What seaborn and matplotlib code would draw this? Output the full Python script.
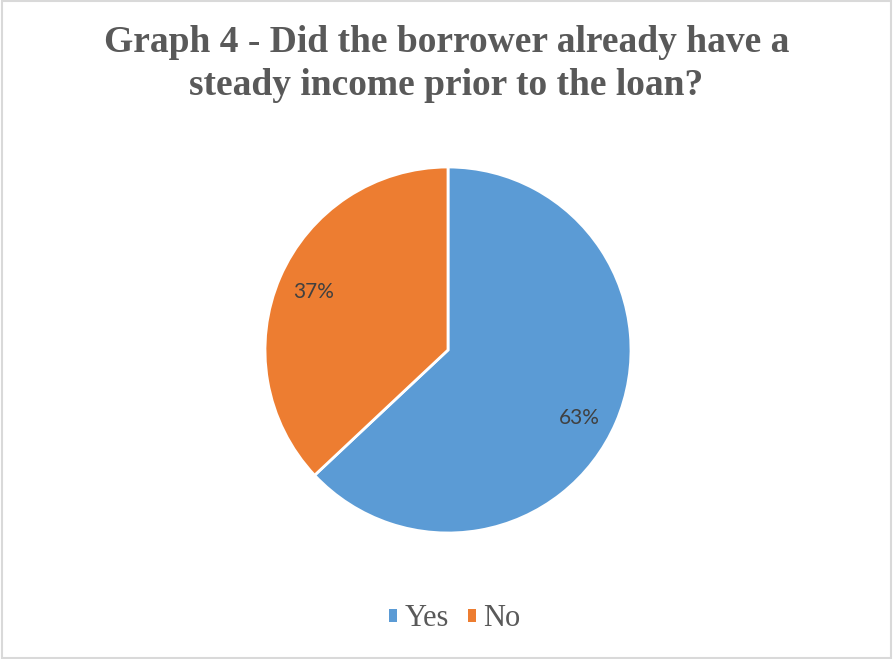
import matplotlib
matplotlib.use("Agg")
import numpy as np
import matplotlib.pyplot as plt
from matplotlib.patches import Patch
import seaborn as sns

categories = ["Yes", "No"]
shares = [63, 37]
colors = ["#5B9BD5", "#ED7D31"]
title = "Graph 4 - Did the borrower already have a\nsteady income prior to the loan?"

sns.set_theme(style="white")
plt.rcParams["font.family"] = ["Liberation Serif", "DejaVu Serif"]

fig = plt.figure(figsize=(8.93, 6.59), dpi=100)
fig.patch.set_facecolor("white")

# light frame around the chart area
frame = plt.Rectangle((0.002, 0.002), 0.996, 0.996, transform=fig.transFigure,
                      fill=False, edgecolor="#D9D9D9", linewidth=1.5)
fig.add_artist(frame)

ax = fig.add_axes([265 / 893, (659 - 533) / 659, 366 / 893, 366 / 659])
wedges, _, autotexts = ax.pie(
    shares,
    colors=colors,
    startangle=90,
    counterclock=False,
    autopct="%1.0f%%",
    pctdistance=0.8,
    radius=1.0,
    wedgeprops=dict(edgecolor="white", linewidth=2),
    textprops=dict(color="#404040", fontsize=15, family=["Lato", "DejaVu Sans"]),
)

# pull the large-slice label a little further round its wedge
w = wedges[0]
ang = np.deg2rad((w.theta1 + w.theta2) / 2 - 4)
autotexts[0].set_position((0.81 * np.cos(ang), 0.81 * np.sin(ang)))

ax.set_xlim(-1.0, 1.0)
ax.set_ylim(-1.0, 1.0)
ax.set_aspect("equal")
ax.axis("off")

fig.text(0.5, 1 - 64 / 659, title, ha="center", va="center", fontsize=27,
         fontweight="bold", color="#595959", linespacing=1.28)

# square swatches without the white slice outline
handles = [Patch(facecolor=wd.get_facecolor(), edgecolor="none") for wd in wedges]
fig.legend(handles, categories, loc="center", bbox_to_anchor=(455 / 893, 1 - 619 / 659),
           ncol=2, frameon=False, fontsize=22, handlelength=0.26, handleheight=0.26,
           handletextpad=0.25, columnspacing=0.62, labelcolor="#595959")

fig.savefig("out.png", dpi=100)
